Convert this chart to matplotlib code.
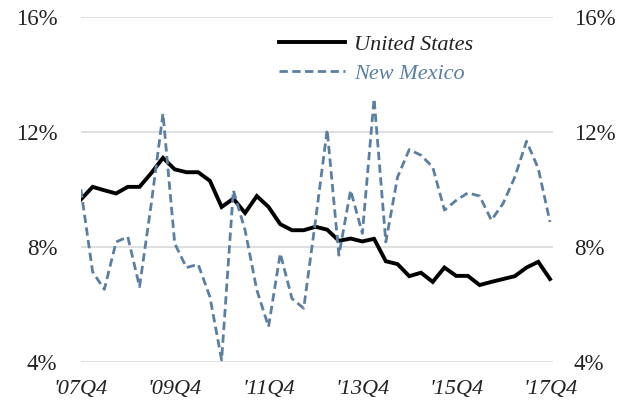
import matplotlib
matplotlib.use("Agg")
import matplotlib.pyplot as plt
from matplotlib.ticker import FuncFormatter

# quarterly, 2007Q4 .. 2017Q4
quarters = list(range(41))
tick_pos = [0, 8, 16, 24, 32, 40]
tick_labels = ["'07Q4", "'09Q4", "'11Q4", "'13Q4", "'15Q4", "'17Q4"]

united_states = [
    9.65, 10.09, 9.97, 9.86, 10.09, 10.09, 10.57, 11.1, 10.7, 10.6,
    10.6, 10.3, 9.39, 9.68, 9.18, 9.77, 9.39, 8.79, 8.58, 8.58,
    8.7, 8.6, 8.21, 8.29, 8.19, 8.28, 7.5, 7.4, 6.98, 7.1,
    6.78, 7.28, 6.99, 6.99, 6.67, 6.78, 6.88, 6.98, 7.28, 7.48,
    6.88,
]
new_mexico = [
    10.0, 7.13, 6.52, 8.17, 8.35, 6.61, 9.5, 12.64, 8.12, 7.28,
    7.39, 6.26, 4.06, 9.97, 8.58, 6.5, 5.22, 7.77, 6.2, 5.86,
    8.9, 12.08, 7.71, 9.97, 8.47, 13.16, 8.17, 10.43, 11.39, 11.19,
    10.78, 9.28, 9.62, 9.88, 9.77, 8.93, 9.51, 10.43, 11.68, 10.73,
    8.87,
]

plt.rcParams['font.family'] = ['Liberation Serif', 'DejaVu Serif']

fig = plt.figure(figsize=(6.37, 4.09), dpi=100)
ax = fig.add_axes([0.127, 0.1156, 0.741, 0.8424])

ax.plot(quarters, united_states, color='black', lw=2.8, label='United States',
        solid_joinstyle='miter')
ax.plot(quarters, new_mexico, color='#5a7fa2', lw=2.0, ls=(0, (3, 1.6)),
        label='New Mexico')

ax.set_xlim(0, 40.25)
ax.set_ylim(4, 16)
ax.set_yticks([4, 8, 12, 16])
ax.yaxis.set_major_formatter(FuncFormatter(lambda v, p: f"{v:.0f}%"))
ax.set_xticks(tick_pos)
ax.set_xticklabels(tick_labels, fontstyle='italic')
ax.grid(axis='y', color='#d9d9d9', lw=1.2)
ax.set_axisbelow(True)
for s in ax.spines.values():
    s.set_visible(False)
ax.tick_params(length=0, labelsize=16.5, colors='#222222')
ax.tick_params(axis='y', pad=17)
ax.tick_params(axis='x', pad=13, labelsize=16)

ax2 = ax.twinx()
ax2.set_ylim(4, 16)
ax2.set_yticks([4, 8, 12, 16])
ax2.yaxis.set_major_formatter(FuncFormatter(lambda v, p: f"{v:.0f}%"))
for s in ax2.spines.values():
    s.set_visible(False)
ax2.tick_params(length=0, labelsize=16.5, colors='#222222', pad=15)

leg = ax.legend(loc='upper left', bbox_to_anchor=(0.40, 0.975), frameon=False,
                prop={'style': 'italic', 'size': 16}, handlelength=3.0,
                handletextpad=0.4, labelspacing=0.35, borderaxespad=0)
for t in leg.get_texts():
    t.set_color('#222222')
leg.get_texts()[1].set_color('#5a7fa2')

fig.savefig('out.png', dpi=100)
